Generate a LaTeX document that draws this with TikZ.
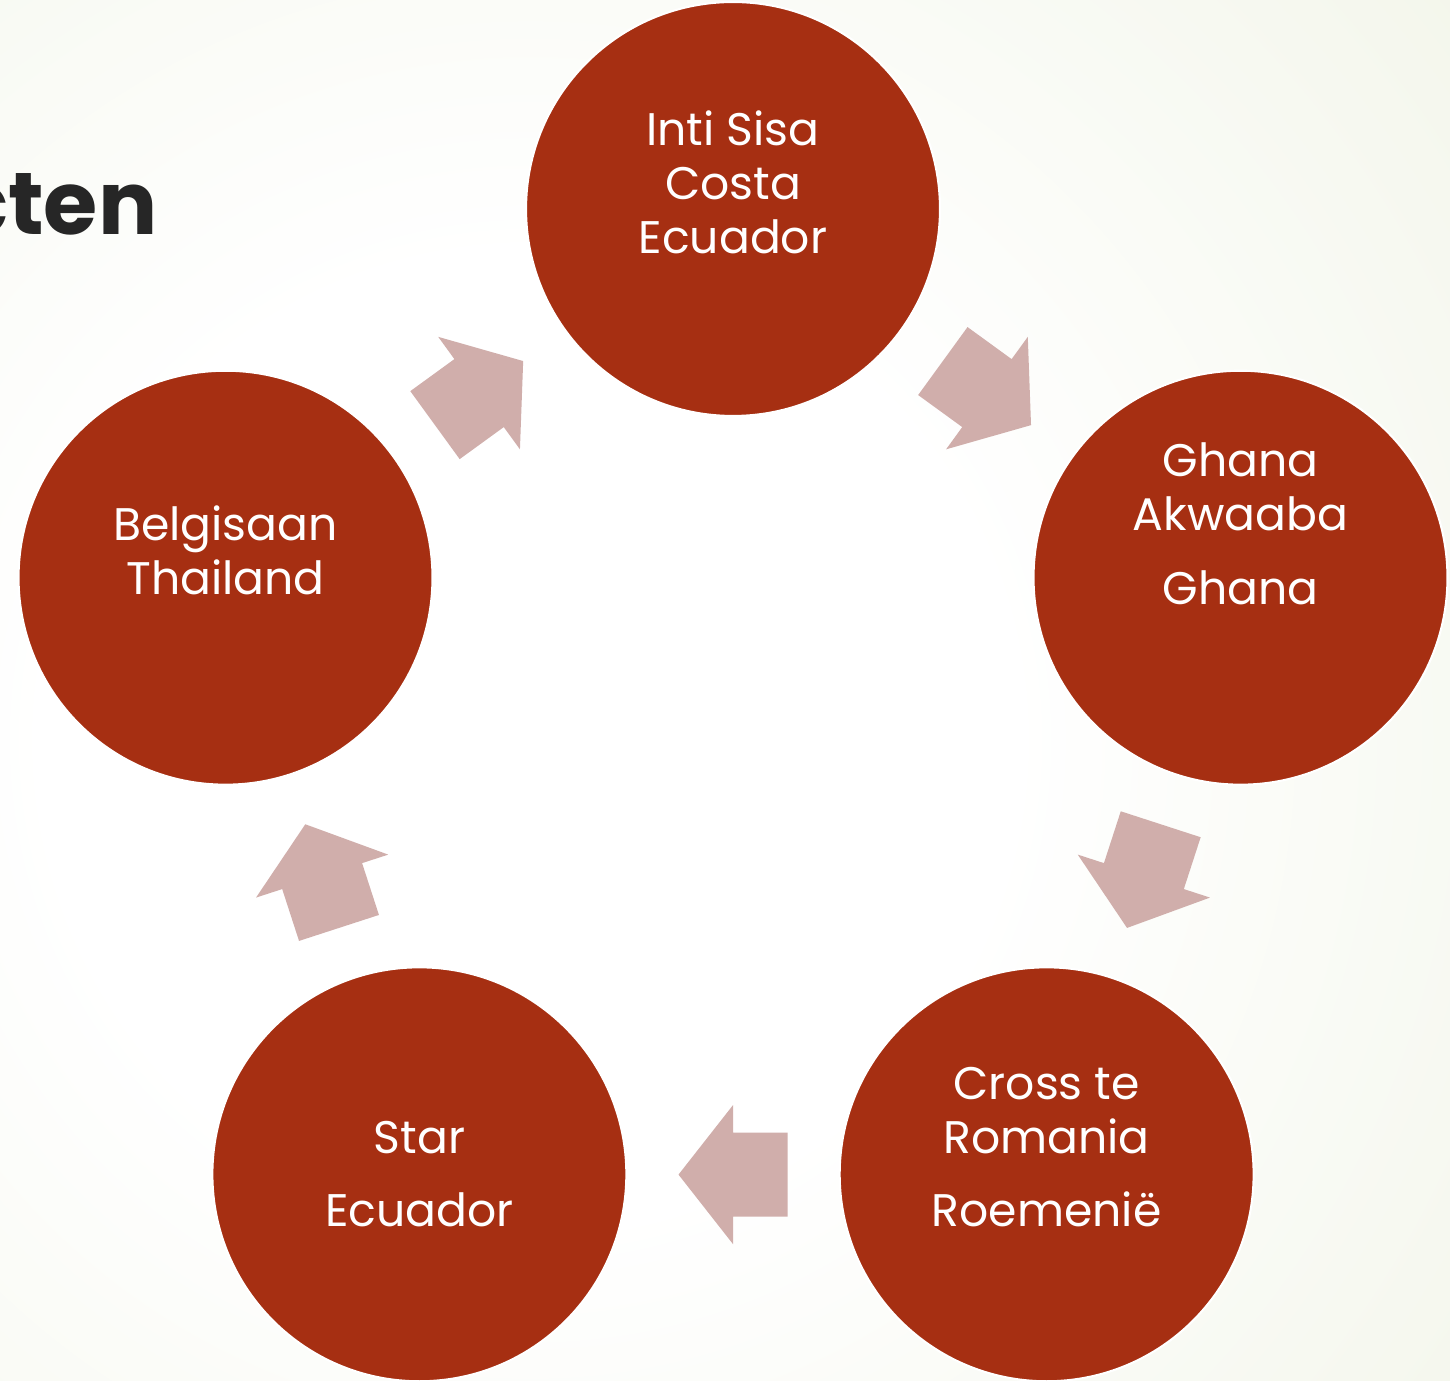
\documentclass[tikz,border=0pt]{standalone}
\usepackage{fontspec}
\setmainfont{Poppins}
\usepackage{tikz}
\usetikzlibrary{%
  positioning,%
  calc%
}
\definecolor{circfill}{HTML}{A62F12}
\definecolor{arrowfill}{HTML}{D0AEAB}
\definecolor{bgpale}{HTML}{EDF1E0}
\definecolor{bggreen}{HTML}{E2E8C6}
\definecolor{titlegray}{HTML}{262626}
\pgfdeclareradialshading{slidebg}{\pgfpoint{0bp}{0bp}}{%
  color(0bp)=(white); color(8bp)=(white); color(27bp)=(bgpale);
  color(37bp)=(bggreen); color(50bp)=(bggreen)}
\tikzset{
  petal/.style={circle, minimum size=4.14cm, inner sep=0pt, fill=circfill, draw=white, line width=0.6pt},
  petaltext/.style={text=white, align=center, inner sep=0pt, font=\fontsize{13}{15.4}\selectfont},
  blockarrow/.style={fill=arrowfill}
}
\begin{document}
\begin{tikzpicture}
	\useasboundingbox (0,0) rectangle (14.5,-13.81);
	%Background
	\shade[shading=slidebg] (-9.7,-22.4) rectangle (20.3,7.6);
	\node[anchor=base east, inner sep=0pt, text=titlegray, font=\fontsize{25}{30}\selectfont\bfseries] (title) at (1.58,-2.35) {cten};
	%Nodes
	\coordinate (ctr) at (7.33,-7.426);
	\node[petal] (inti) at ($(ctr)+(90:5.336)$) {};
	\node[petal] (ghana) at ($(ctr)+(18:5.336)$) {};
	\node[petal] (cross) at ($(ctr)+(-54:5.336)$) {};
	\node[petal] (star) at ($(ctr)+(-126:5.336)$) {};
	\node[petal] (belg) at ($(ctr)+(162:5.336)$) {};
	%Labels
	\node[petaltext, yshift=0.27cm] (intitext) at (inti) {Inti Sisa\\Costa\\Ecuador};
	\node[petaltext, yshift=0.54cm] (ghanatext) at (ghana) {Ghana\\Akwaaba\\[0.19cm]Ghana};
	\node[petaltext, yshift=0.27cm] (crosstext) at (cross) {Cross te\\Romania\\[0.19cm]Roemenië};
	\node[petaltext] (startext) at (star) {Star\\[0.19cm]Ecuador};
	\node[petaltext, yshift=0.27cm] (belgtext) at (belg) {Belgisaan\\Thailand};
	%Arrows
	\foreach \ang in {126,54,-18,-90,-162}
		\fill[blockarrow, shift={(ctr)}, shift={(\ang:4.32)}, rotate=\ang-90]
			(-0.545,0.42) -- (0,0.42) -- (0,0.695) -- (0.545,0)
			-- (0,-0.695) -- (0,-0.42) -- (-0.545,-0.42) -- cycle;
\end{tikzpicture}
\end{document}
